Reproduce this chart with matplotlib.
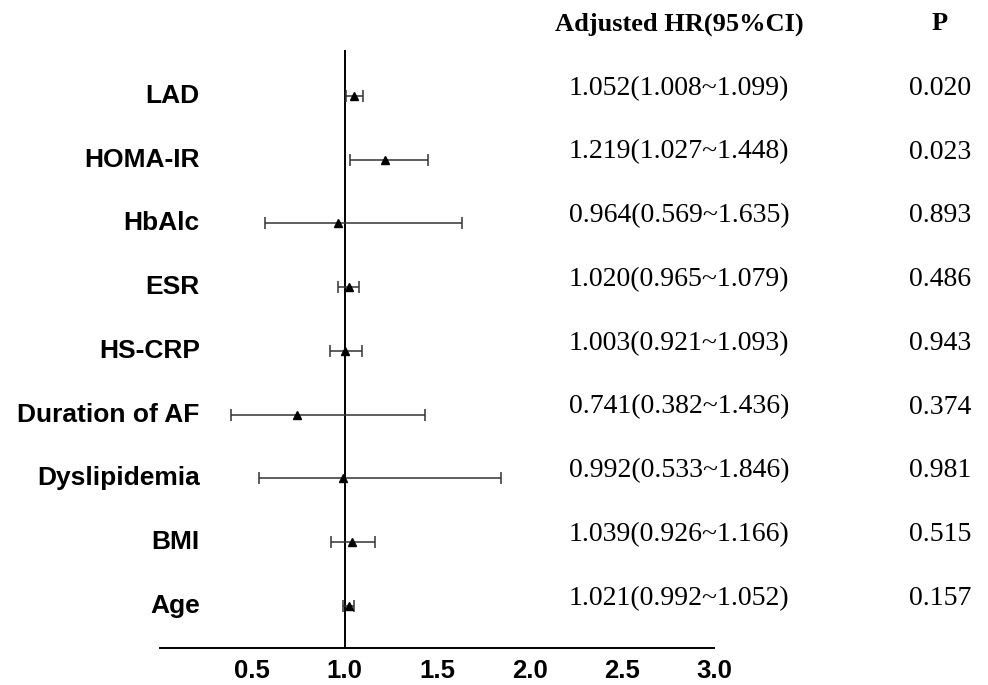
import matplotlib.pyplot as plt
import matplotlib.transforms as mtransforms

# data, top row first
labels = ['LAD', 'HOMA-IR', 'HbAlc', 'ESR', 'HS-CRP', 'Duration of AF',
          'Dyslipidemia', 'BMI', 'Age']
hr = [1.052, 1.219, 0.964, 1.020, 1.003, 0.741, 0.992, 1.039, 1.021]
lo = [1.008, 1.027, 0.569, 0.965, 0.921, 0.382, 0.533, 0.926, 0.992]
hi = [1.099, 1.448, 1.635, 1.079, 1.093, 1.436, 1.846, 1.166, 1.052]
pvals = ['0.020', '0.023', '0.893', '0.486', '0.943', '0.374', '0.981', '0.515', '0.157']
xticks = [0.5, 1.0, 1.5, 2.0, 2.5, 3.0]

fig = plt.figure(figsize=(9.88, 6.85), dpi=100)
ax = fig.add_axes([0.162, 0.054, 0.561, 0.873])

n = len(labels)
ys = list(range(n, 0, -1))
err = [[h - l for h, l in zip(hr, lo)], [u - h for h, u in zip(hr, hi)]]

ax.errorbar(hr, ys, xerr=err, fmt='^', color='black', ms=6,
            ecolor='#333333', elinewidth=1.1, capsize=4, capthick=1.1)
ax.axvline(1.0, color='black', lw=1.4, zorder=0)

ax.set_xlim(0, 3)
ax.set_ylim(0.34, n + 0.72)
ax.set_xticks(xticks)
ax.set_xticklabels(['%.1f' % t for t in xticks], fontsize=18.5, fontweight='bold',
                   family='Liberation Sans')
ax.tick_params(axis='x', length=0, pad=8)
ax.set_yticks([])
for s in ['top', 'right', 'left']:
    ax.spines[s].set_visible(False)
ax.spines['bottom'].set_linewidth(1.4)

# row labels and right-side columns
t = mtransforms.blended_transform_factory(fig.transFigure, ax.transData)
for y, lab, h, l, u, p in zip(ys, labels, hr, lo, hi, pvals):
    ax.text(0.215, y, lab, ha='right', va='center', fontsize=19,
            fontweight='bold', family='Liberation Sans')
    ax.text(679 / 988, y + 0.12, '%.3f(%.3f~%.3f)' % (h, l, u), transform=t,
            ha='center', va='center', fontsize=20, family='Liberation Serif')
    ax.text(940 / 988, y + 0.12, p, transform=t, ha='center', va='center',
            fontsize=20, family='Liberation Serif')

fig.text(679 / 988, 1 - 24 / 685, 'Adjusted HR(95%CI)', ha='center', va='center',
         fontsize=19, fontweight='bold', family='Liberation Serif')
fig.text(940 / 988, 1 - 24 / 685, 'P', ha='center', va='center',
         fontsize=19, fontweight='bold', family='Liberation Serif')

fig.savefig('out.png', dpi=100)
